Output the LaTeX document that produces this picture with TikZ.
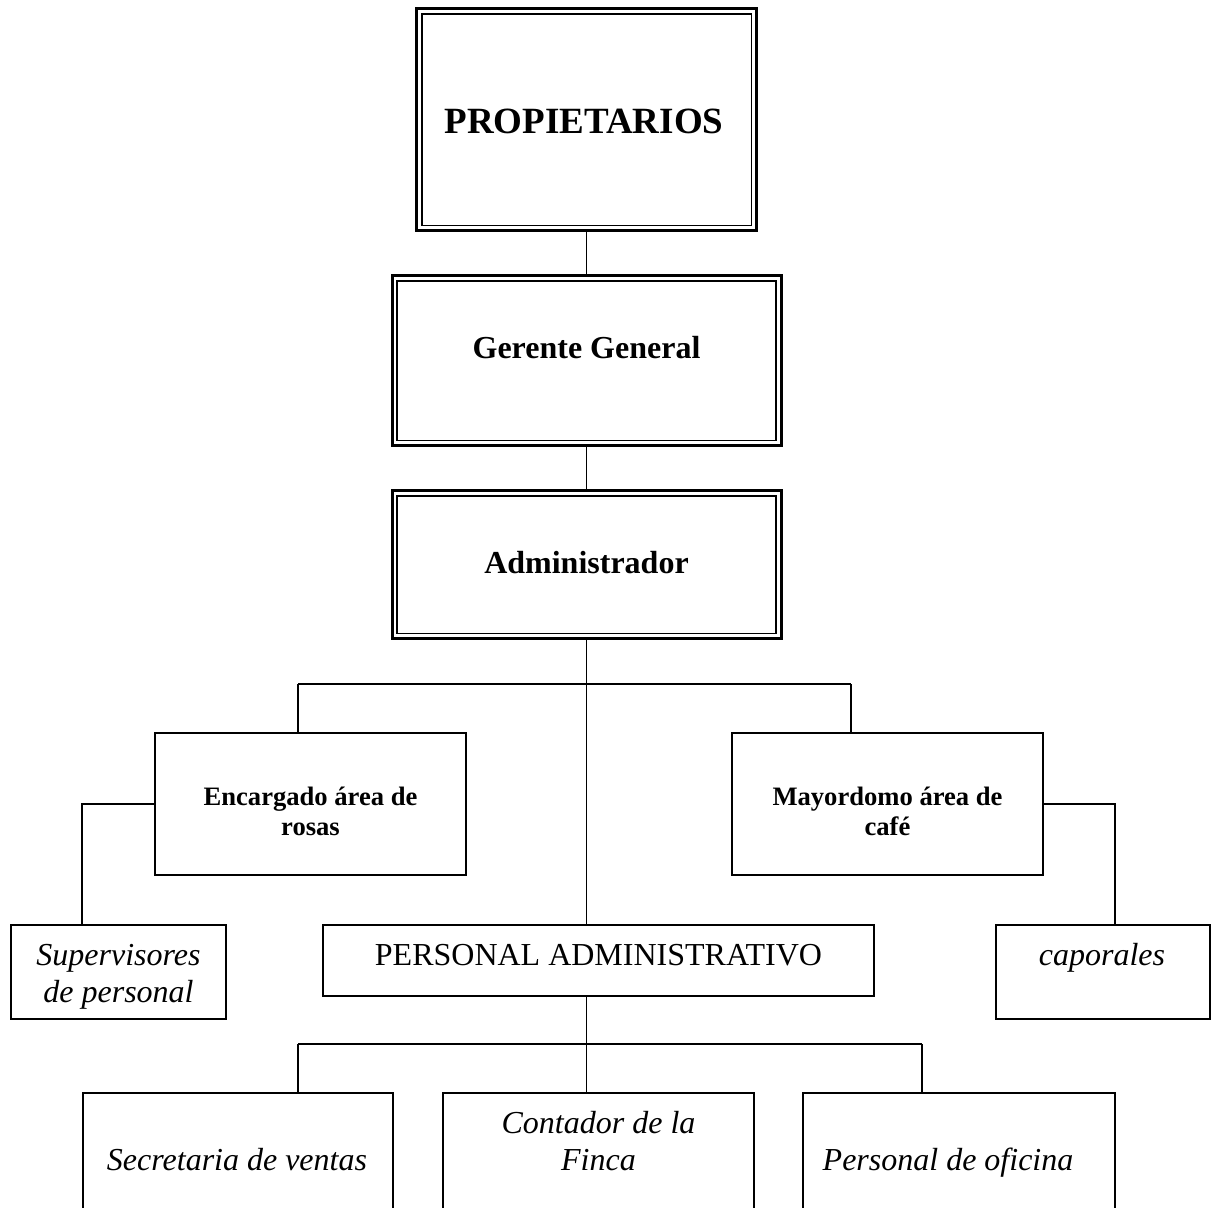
\documentclass[tikz,border=0pt]{standalone}
\usepackage{fontspec}
\setmainfont{Liberation Serif}

\tikzset{
	jefe/.style={draw, line width=1.5pt, inner sep=0pt},
	cargo/.style={draw, line width=1pt, inner sep=0pt},
	linea/.style={line width=0.9pt},
	txt/.style={anchor=base, inner sep=0pt, align=center},
	titulo/.style={txt, font=\fontsize{18.5}{22}\selectfont\bfseries},
	jefeT/.style={txt, font=\fontsize{16}{18.5}\selectfont\bfseries},
	areaT/.style={txt, font=\fontsize{13.3}{14.7}\selectfont\bfseries},
	cursiva/.style={txt, font=\fontsize{16}{18.5}\selectfont\itshape},
	normal/.style={txt, font=\fontsize{16}{18.5}\selectfont}
}

\begin{document}
\begin{tikzpicture}[x=0.5pt,y=-0.5pt]
		\pgfmathsetmacro{\busUno}{684};
		\pgfmathsetmacro{\busDos}{1044};
		\clip (0,0) rectangle (1219,1207);
		% cajas dobles
		\node[jefe, minimum width=170pt, minimum height=111pt] (prop) at (586.5,119.5) {};
		\node[jefe, minimum width=194.5pt, minimum height=85pt] (gerente) at (586.5,360.5) {};
		\node[jefe, minimum width=194.5pt, minimum height=74pt] (admin) at (586.5,564.5) {};
		\foreach \b in {prop,gerente,admin}
			\draw[line width=0.9pt] ([shift={(3.3pt,-3.3pt)}]\b.north west) rectangle ([shift={(-3.3pt,3.3pt)}]\b.south east);
		% cajas simples
		\node[cargo, minimum width=155.5pt, minimum height=71pt] (enc) at (310.5,804) {};
		\node[cargo, minimum width=155.5pt, minimum height=71pt] (may) at (887,804) {};
		\node[cargo, minimum width=107.5pt, minimum height=47pt] (sup) at (118.5,972) {};
		\node[cargo, minimum width=107pt, minimum height=47pt] (cap) at (1103,972) {};
		\node[cargo, minimum width=275.5pt, minimum height=35.5pt] (pa) at (598.5,960.5) {};
		\node[cargo, minimum width=155pt, minimum height=100pt] (sec) at (238,1193) {};
		\node[cargo, minimum width=155.5pt, minimum height=100pt] (con) at (598.5,1193) {};
		\node[cargo, minimum width=156pt, minimum height=100pt] (ofi) at (959,1193) {};
		% textos (base = ultima linea)
		\node[titulo] (propT) at (584,133) {PROPIETARIOS};
		\node[jefeT] (gerenteT) at (586.5,358) {Gerente General};
		\node[jefeT] (adminT) at (586.5,573) {Administrador};
		\node[areaT] (encT) at (310.5,835) {Encargado área de\\rosas};
		\node[areaT] (mayT) at (887.5,835) {Mayordomo área de\\café};
		\node[cursiva] (supT) at (118.5,1002) {Supervisores\\de personal};
		\node[cursiva] (capT) at (1102,965) {caporales};
		\node[normal] (paT) at (598.5,965) {PERSONAL ADMINISTRATIVO};
		\node[cursiva] (secT) at (237,1170) {Secretaria de ventas};
		\node[cursiva] (conT) at (598.5,1170) {Contador de la\\Finca};
		\node[cursiva] (ofiT) at (948,1170) {Personal de oficina};
		% conectores
		\coordinate (busA) at (298,\busUno);
		\coordinate (busB) at (851,\busUno);
		\coordinate (busC) at (298,\busDos);
		\coordinate (busD) at (922,\busDos);
		\coordinate (supC) at (82,0);
		\coordinate (capC) at (1115,0);
		\draw[linea] (prop) -- (gerente);
		\draw[linea] (gerente) -- (admin);
		\draw[linea] (admin.south) -- (admin.south |- pa.north);
		\draw[linea] (busA) -- (busB);
		\draw[linea] (busA) -- (busA |- enc.north);
		\draw[linea] (busB) -- (busB |- may.north);
		\draw[linea] (enc.west) -| (supC |- sup.north);
		\draw[linea] (may.east) -| (capC |- cap.north);
		\draw[linea] (admin.south |- pa.south) -- (admin.south |- busC);
		\draw[linea] (busC) -- (busD);
		\draw[linea] (busC) -- (busC |- sec.north);
		\draw[linea] (admin.south |- busC) -- (admin.south |- con.north);
		\draw[linea] (busD) -- (busD |- ofi.north);
	\end{tikzpicture}
\end{document}
